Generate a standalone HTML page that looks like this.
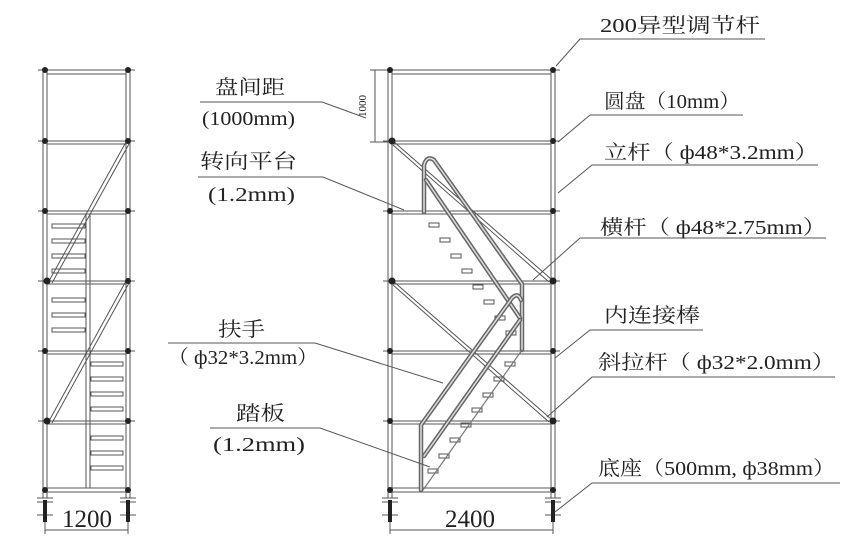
<!DOCTYPE html>
<html><head><meta charset="utf-8"><style>
html,body{margin:0;padding:0;background:#fff;}
svg{display:block;}
text{font-family:"Liberation Serif","Noto Serif CJK SC",serif;fill:#222;}
</style></head><body>
<svg width="860" height="549" viewBox="0 0 860 549" xmlns="http://www.w3.org/2000/svg">
<rect width="860" height="549" fill="#fff"/>
<g stroke="#555" stroke-width="1" fill="none">
<line x1="43" y1="68" x2="43" y2="498"/><line x1="47" y1="68" x2="47" y2="498"/>
<line x1="126" y1="68" x2="126" y2="498"/><line x1="130" y1="68" x2="130" y2="498"/>
<line x1="38" y1="70" x2="135" y2="70"/><line x1="47" y1="74" x2="126" y2="74"/>
<line x1="38" y1="141" x2="135" y2="141"/><line x1="47" y1="144" x2="126" y2="144"/>
<line x1="38" y1="211" x2="135" y2="211"/><line x1="47" y1="214" x2="126" y2="214"/>
<line x1="38" y1="281" x2="135" y2="281"/><line x1="47" y1="284" x2="126" y2="284"/>
<line x1="38" y1="351" x2="135" y2="351"/><line x1="47" y1="354" x2="126" y2="354"/>
<line x1="38" y1="421" x2="135" y2="421"/><line x1="47" y1="424" x2="126" y2="424"/>
<line x1="47" y1="488" x2="126" y2="488"/><line x1="47" y1="492" x2="126" y2="492"/>
<line x1="86" y1="214" x2="86" y2="488"/><line x1="90" y1="214" x2="90" y2="488"/>
<line x1="126" y1="142" x2="49" y2="281"/><line x1="129" y1="144" x2="52" y2="283"/>
<line x1="126" y1="281" x2="49" y2="421"/><line x1="129" y1="283" x2="52" y2="423"/>
<g>
<rect x="52" y="224" width="33" height="4"/><rect x="52" y="239" width="33" height="4"/>
<rect x="52" y="254" width="33" height="4"/><rect x="52" y="269" width="33" height="4"/>
<rect x="52" y="298" width="33" height="4"/><rect x="52" y="313" width="33" height="4"/>
<rect x="52" y="328" width="33" height="4"/>
<rect x="91" y="362" width="32" height="4"/><rect x="91" y="377" width="32" height="4"/>
<rect x="91" y="392" width="32" height="4"/><rect x="91" y="407" width="32" height="4"/>
<rect x="91" y="436" width="32" height="4"/><rect x="91" y="451" width="32" height="4"/>
<rect x="91" y="466" width="32" height="4"/>
</g>
<line x1="37" y1="498" x2="53" y2="498"/><line x1="37" y1="502" x2="53" y2="502"/>
<line x1="120" y1="498" x2="136" y2="498"/><line x1="120" y1="502" x2="136" y2="502"/>
<line x1="37" y1="515" x2="53" y2="515"/><line x1="120" y1="515" x2="136" y2="515"/>
<line x1="45" y1="530" x2="128" y2="530"/><line x1="45" y1="518" x2="45" y2="534"/><line x1="128" y1="518" x2="128" y2="534"/>

<line x1="388" y1="68" x2="388" y2="498"/><line x1="392" y1="68" x2="392" y2="498"/>
<line x1="551" y1="68" x2="551" y2="498"/><line x1="555" y1="68" x2="555" y2="498"/>
<line x1="383" y1="70" x2="560" y2="70"/><line x1="392" y1="74" x2="551" y2="74"/>
<line x1="383" y1="141" x2="560" y2="141"/><line x1="392" y1="144" x2="551" y2="144"/>
<line x1="383" y1="211" x2="560" y2="211"/><line x1="392" y1="214" x2="551" y2="214"/>
<line x1="383" y1="281" x2="560" y2="281"/><line x1="392" y1="284" x2="551" y2="284"/>
<line x1="383" y1="351" x2="560" y2="351"/><line x1="392" y1="354" x2="551" y2="354"/>
<line x1="383" y1="421" x2="560" y2="421"/><line x1="392" y1="424" x2="551" y2="424"/>
<line x1="392" y1="488" x2="551" y2="488"/><line x1="392" y1="492" x2="551" y2="492"/>
<line x1="393" y1="141" x2="551" y2="279"/><line x1="393" y1="145" x2="549" y2="282"/>
<line x1="393" y1="281" x2="551" y2="419"/><line x1="393" y1="285" x2="549" y2="422"/>
<line x1="382" y1="498" x2="398" y2="498"/><line x1="382" y1="502" x2="398" y2="502"/>
<line x1="545" y1="498" x2="561" y2="498"/><line x1="545" y1="502" x2="561" y2="502"/>
<line x1="382" y1="515" x2="398" y2="515"/><line x1="545" y1="515" x2="561" y2="515"/>
<line x1="390" y1="530" x2="553" y2="530"/><line x1="390" y1="518" x2="390" y2="534"/><line x1="553" y1="518" x2="553" y2="534"/>
<line x1="375" y1="70" x2="375" y2="142"/><line x1="370" y1="70" x2="388" y2="70"/><line x1="370" y1="142" x2="388" y2="142"/>
<g>
<rect x="429" y="223" width="10" height="4"/><rect x="440" y="238" width="10" height="4"/>
<rect x="451" y="254" width="10" height="4"/><rect x="462" y="269" width="10" height="4"/>
<rect x="473" y="285" width="10" height="4"/><rect x="484" y="300" width="10" height="4"/>
<rect x="495" y="316" width="10" height="4"/><rect x="506" y="331" width="10" height="4"/>
<rect x="505" y="362" width="10" height="4"/><rect x="494" y="377" width="10" height="4"/>
<rect x="483" y="393" width="10" height="4"/><rect x="472" y="408" width="10" height="4"/>
<rect x="461" y="423" width="10" height="4"/><rect x="450" y="438" width="10" height="4"/>
<rect x="439" y="454" width="10" height="4"/><rect x="428" y="469" width="10" height="4"/>
</g>
</g>
<g fill="#222">
<circle cx="45" cy="70" r="3"/><circle cx="128" cy="70" r="3"/>
<circle cx="45" cy="141" r="3"/><circle cx="128" cy="141" r="3"/>
<circle cx="45" cy="211" r="3"/><circle cx="128" cy="211" r="3"/>
<circle cx="47" cy="281" r="3.5"/><circle cx="128" cy="281" r="3"/>
<circle cx="45" cy="351" r="3"/><circle cx="128" cy="351" r="3"/>
<circle cx="47" cy="421" r="3.5"/><circle cx="128" cy="421" r="3"/>
<circle cx="45" cy="490" r="3"/><circle cx="128" cy="490" r="3"/>
<circle cx="390" cy="70" r="3"/><circle cx="553" cy="70" r="3"/>
<circle cx="392" cy="141" r="3.5"/><circle cx="553" cy="141" r="3"/>
<circle cx="390" cy="211" r="3"/><circle cx="553" cy="211" r="3"/>
<circle cx="392" cy="281" r="3.5"/><circle cx="553" cy="281" r="3.5"/>
<circle cx="390" cy="351" r="3"/><circle cx="553" cy="351" r="3"/>
<circle cx="390" cy="421" r="3"/><circle cx="553" cy="421" r="3.5"/>
<circle cx="390" cy="490" r="3"/><circle cx="553" cy="490" r="3"/>
<rect x="43" y="500" width="4" height="22"/><rect x="126" y="500" width="4" height="22"/>
<rect x="388" y="500" width="4" height="22"/><rect x="551" y="500" width="4" height="22"/>
</g>
<g fill="none" stroke-linecap="round" stroke-linejoin="round">
<path d="M424 212 L424 165 Q427 155 434 160 L522 284 L522 350" stroke="#666" stroke-width="4.5"/>
<path d="M424 212 L424 165 Q427 155 434 160 L522 284 L522 350" stroke="#ddd" stroke-width="1.5"/>
<path d="M426 180 L520 318" stroke="#666" stroke-width="4.5"/><path d="M426 180 L520 318" stroke="#ddd" stroke-width="1.5"/>
<path d="M421 490 L421 425 L512 298 Q518 292 521 300" stroke="#666" stroke-width="4.5"/>
<path d="M421 490 L421 425 L512 298 Q518 292 521 300" stroke="#ddd" stroke-width="1.5"/>
<path d="M424 456 L520 320" stroke="#666" stroke-width="4.5"/><path d="M424 456 L520 320" stroke="#ddd" stroke-width="1.5"/>
<path d="M423 490 L522 350" stroke="#777" stroke-width="1.2"/>
</g>
<g stroke="#555" stroke-width="1" fill="none">
<polyline points="765,39 580,39 556,66"/>
<polyline points="743,115 590,115 558,142"/>
<polyline points="818,165 592,165 558,193"/>
<polyline points="826,238 580,238 533,280"/>
<polyline points="703,330 590,330 555,358"/>
<polyline points="835,377 592,377 547,417"/>
<polyline points="840,483 592,483 555,512"/>
<polyline points="200,102 322,102 366,118"/>
<polyline points="198,177 323,177 404,210"/>
<polyline points="168,343 315,343 443,383"/>
<polyline points="210,428 320,428 430,467"/>
</g>
<g font-size="20" lengthAdjust="spacingAndGlyphs">
<text x="600" y="32" textLength="160" lengthAdjust="spacingAndGlyphs">200异型调节杆</text>
<text x="604" y="108" textLength="136" lengthAdjust="spacingAndGlyphs">圆盘（10mm）</text>
<text x="604" y="159" textLength="214" lengthAdjust="spacingAndGlyphs">立杆（ ф48*3.2mm）</text>
<text x="600" y="234" textLength="226" lengthAdjust="spacingAndGlyphs">横杆（ ф48*2.75mm）</text>
<text x="604" y="322" textLength="96" lengthAdjust="spacingAndGlyphs">内连接棒</text>
<text x="598" y="369" textLength="237" lengthAdjust="spacingAndGlyphs">斜拉杆（ ф32*2.0mm）</text>
<text x="598" y="475" textLength="237" lengthAdjust="spacingAndGlyphs">底座（500mm, ф38mm）</text>
<text x="215" y="94" textLength="70" lengthAdjust="spacingAndGlyphs">盘间距</text>
<text x="202" y="125" textLength="93" lengthAdjust="spacingAndGlyphs">(1000mm)</text>
<text x="200" y="168" textLength="97" lengthAdjust="spacingAndGlyphs">转向平台</text>
<text x="208" y="201" textLength="87" lengthAdjust="spacingAndGlyphs">(1.2mm)</text>
<text x="218" y="336" textLength="47" lengthAdjust="spacingAndGlyphs">扶手</text>
<text x="168" y="364" textLength="150" lengthAdjust="spacingAndGlyphs">（ ф32*3.2mm）</text>
<text x="236" y="420" textLength="49" lengthAdjust="spacingAndGlyphs">踏板</text>
<text x="213" y="451" textLength="92" lengthAdjust="spacingAndGlyphs">(1.2mm)</text>
</g>
<text x="366" y="106" font-size="11" transform="rotate(-90 366 106)" text-anchor="middle">1000</text>
<text x="87" y="527" font-size="25" text-anchor="middle">1200</text>
<text x="470" y="527" font-size="25" text-anchor="middle">2400</text>
</svg>
</body></html>
